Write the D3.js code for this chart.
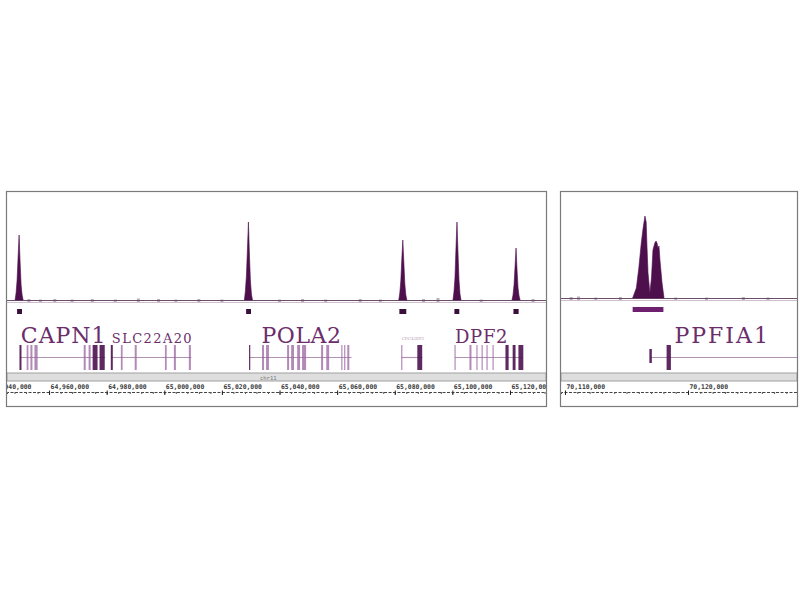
<!DOCTYPE html>
<html>
<head>
<meta charset="utf-8">
<script src="https://cdn.jsdelivr.net/npm/d3@7"></script>
<style>
  body { margin: 0; background: #fff; }
  svg { display: block; }
</style>
</head>
<body>
<svg id="chart" width="800" height="600"></svg>
<script>
// ---- data: left region (chr11, CAPN1 .. DPF2) ----
const leftDomain = [64945400, 65132500];
const leftTicks = [64940000, 64960000, 64980000, 65000000, 65020000, 65040000, 65060000, 65080000, 65100000, 65120000];

// ChIP signal, [position, value]
const leftSignal = [
  [64948200, 0], [64948550, 7], [64948900, 20], [64949250, 43], [64949600, 65], [64949950, 38], [64950300, 15], [64950650, 5], [64951000, 0],
  [65027800, 0], [65028150, 9], [65028500, 24], [65028850, 50], [65029200, 78], [65029550, 46], [65029900, 19], [65030250, 6], [65030600, 0],
  [65081400, 0], [65081750, 7], [65082100, 19], [65082450, 41], [65082800, 60], [65083150, 38], [65083500, 16], [65083850, 5], [65084200, 0],
  [65100200, 0], [65100550, 8], [65100900, 22], [65101250, 52], [65101600, 78], [65101950, 48], [65102300, 20], [65102650, 6], [65103000, 0],
  [65120700, 0], [65121050, 5], [65121400, 15], [65121750, 33], [65122100, 52], [65122450, 30], [65122800, 12], [65123150, 4], [65123500, 0]
];
const leftNoise = [
  [64953000, 2], [64957000, 1.5], [64962000, 2], [64968000, 1.5], [64975000, 2], [64983000, 1.5], [64991000, 2.5],
  [64998000, 2], [65004000, 1.5], [65012000, 2], [65020000, 1.5], [65040000, 1.5], [65048000, 2], [65056000, 1.5],
  [65068000, 2], [65075000, 1.5], [65090000, 2], [65095000, 3], [65110000, 1.5], [65128000, 2]
];
// called peaks [start, end]
const leftPeaks = [
  [64948900, 64950600], [65028400, 65030100], [65081600, 65084000], [65100700, 65102400], [65121200, 65123000]
];
// genes: exons [start, end, strong]
const leftGenes = [
  { name: "CAPN1", start: 64949900, end: 64979500, labelAt: 64950200, size: 22, ls: 1,
    exons: [[64949900, 64950600, 1], [64952400, 64953000, 0], [64953700, 64954400, 0], [64955100, 64956200, 0],
            [64972200, 64972900, 0], [64973900, 64974600, 0], [64975300, 64977000, 1], [64977700, 64979500, 1]] },
  { name: "SLC22A20", start: 64981600, end: 65009400, labelAt: 64981800, size: 13, ls: 1.4,
    exons: [[64981600, 64982300, 1], [64985100, 64985700, 0], [64989900, 64990600, 0], [65000400, 65001000, 0],
            [65003500, 65004200, 0], [65008700, 65009400, 0]] },
  { name: "POLA2", start: 65029600, end: 65065000, labelAt: 65033700, size: 22, ls: 0.6,
    exons: [[65029600, 65029900, 1], [65034100, 65034800, 0], [65035500, 65036500, 0], [65042800, 65043500, 0],
            [65044200, 65045200, 0], [65046300, 65047300, 0], [65048000, 65049400, 0], [65054600, 65055300, 0],
            [65056400, 65057400, 0], [65061600, 65061900, 0], [65062600, 65063000, 0], [65063700, 65064400, 0]] },
  { name: "CDC42EP2", start: 65082400, end: 65089600, labelAt: 65082400, size: 4, ls: 0,
    exons: [[65082400, 65082800, 0], [65088000, 65089700, 1]] },
  { name: "DPF2", start: 65100900, end: 65124500, labelAt: 65100900, size: 18, ls: 0.7,
    exons: [[65100900, 65101200, 0], [65106100, 65106800, 0], [65108500, 65108900, 0], [65110300, 65110600, 0],
            [65112000, 65112400, 0], [65114100, 65114400, 0], [65118600, 65119700, 1], [65121100, 65122100, 1],
            [65123100, 65124800, 1]] }
];

// ---- data: right region (chr11, PPFIA1) ----
const rightDomain = [70109675, 70128860];
const rightTicks = [70110000, 70120000];
const rightSignal = [
  [70115500, 0], [70115800, 10], [70116000, 30], [70116200, 55], [70116350, 70], [70116500, 82], [70116600, 76],
  [70116670, 50], [70116750, 25], [70116900, 5], [70117030, 20], [70117150, 48], [70117300, 55], [70117400, 57],
  [70117480, 55], [70117560, 50], [70117640, 52], [70117720, 38], [70117890, 15], [70118050, 0]
];
const rightNoise = [
  [70110500, 2], [70111100, 2.5], [70112500, 1.5], [70114500, 2], [70119000, 1.5], [70121500, 1.5], [70124500, 2], [70126500, 1.5]
];
const rightPeaks = [[70115500, 70118000]];
const rightGenes = [
  { name: "PPFIA1", start: 70116900, end: 70140000, labelAt: 70118900, size: 22, ls: 2,
    exons: [[70116900, 70117100, 2], [70118300, 70118650, 1]] }
];

const svg = d3.select("#chart");
svg.append("rect").attr("width", 800).attr("height", 600).attr("fill", "#fff");

function drawPanel(id, box, domain, ticks, minorStep, signal, noise, peaks, genes, base, peakY, peakColor) {
  const x = d3.scaleLinear().domain(domain).range([box.x0, box.x1]);
  const y = d3.scaleLinear().domain([0, 100]).range([base, base - 100]);

  svg.append("clipPath").attr("id", id)
    .append("rect").attr("x", box.x0).attr("y", box.y0)
    .attr("width", box.x1 - box.x0).attr("height", box.y1 - box.y0);

  const g = svg.append("g").attr("clip-path", `url(#${id})`);

  // baseline
  g.append("line").attr("x1", box.x0).attr("x2", box.x1).attr("y1", base + 0.5).attr("y2", base + 0.5)
    .attr("stroke", "#6a4f6a").attr("stroke-width", 1);
  g.append("line").attr("x1", box.x0).attr("x2", box.x1).attr("y1", base + 2.5).attr("y2", base + 2.5)
    .attr("stroke", "#cdbfcd").attr("stroke-width", 1);

  // noise specks
  g.selectAll(".noise").data(noise).join("rect")
    .attr("x", d => x(d[0]) - 1.5).attr("y", d => y(d[1]) + 1)
    .attr("width", 3).attr("height", d => y(0) - y(d[1]) + 1)
    .attr("fill", "#6a4a6a").attr("opacity", 0.45);

  // signal, split into separate peaks at zero runs
  const area = d3.area().x(d => x(d[0])).y0(y(0)).y1(d => y(d[1]));
  const runs = [];
  let cur = [];
  signal.forEach(d => {
    cur.push(d);
    if (d[1] === 0 && cur.length > 1) { runs.push(cur); cur = []; }
  });
  if (cur.length > 1) runs.push(cur);
  g.selectAll(".sig").data(runs).join("path")
    .attr("d", area).attr("fill", "#4e0f4d").attr("stroke", "#4e0f4d").attr("stroke-width", 0.6);

  // peak calls
  g.selectAll(".peak").data(peaks).join("rect")
    .attr("x", d => x(d[0])).attr("y", peakY)
    .attr("width", d => x(d[1]) - x(d[0])).attr("height", 5)
    .attr("fill", peakColor);

  // genes
  const geneG = g.selectAll(".gene").data(genes).join("g");
  geneG.append("line")
    .attr("x1", d => x(d.start)).attr("x2", d => x(d.end))
    .attr("y1", 357.5).attr("y2", 357.5)
    .attr("stroke", "#b293b2").attr("stroke-width", 1.2);
  geneG.selectAll("rect").data(d => d.exons).join("rect")
    .attr("x", d => x(d[0]) - 0.5)
    .attr("width", d => Math.max(1.2, x(d[1]) - x(d[0])))
    .attr("y", d => d[2] === 2 ? 349 : 345)
    .attr("height", d => d[2] === 2 ? 14 : 25)
    .attr("fill", d => d[2] ? "#4d1250" : "#9a62a0")
    .attr("opacity", d => d[2] ? 0.9 : 0.75);
  geneG.append("text")
    .attr("x", d => x(d.labelAt)).attr("y", d => d.size < 8 ? 340 : 343)
    .attr("font-family", "'DejaVu Serif', serif")
    .attr("font-size", d => d.size)
    .attr("letter-spacing", d => d.ls)
    .attr("fill", d => d.size < 8 ? "#b8a0b8" : "#6b2d6b")
    .text(d => d.name);

  // ruler band
  g.append("rect").attr("x", box.x0).attr("y", 373).attr("width", box.x1 - box.x0).attr("height", 8)
    .attr("fill", "#dedede").attr("stroke", "#a0a0a0").attr("stroke-width", 1);

  // axis
  const minor = d3.range(Math.ceil(domain[0] / minorStep) * minorStep, domain[1], minorStep);
  g.append("g").attr("transform", "translate(0,392)")
    .call(d3.axisBottom(x).tickValues(minor).tickSize(2).tickFormat(""))
    .call(a => a.select(".domain").attr("stroke", "#444").attr("stroke-dasharray", "3,1.5"))
    .call(a => a.selectAll(".tick line").attr("stroke", "#555"));
  g.append("g").attr("transform", "translate(0,392)")
    .call(d3.axisBottom(x).tickValues(ticks).tickSize(3).tickFormat(d3.format(",")))
    .call(a => a.select(".domain").remove())
    .call(a => a.selectAll(".tick line").attr("stroke", "#222").attr("y1", -1.5))
    .call(a => a.selectAll(".tick text")
      .attr("y", -3.5).attr("dy", 0).attr("x", 1).attr("text-anchor", "start")
      .attr("font-family", "'DejaVu Sans Mono', monospace").attr("font-weight", "bold")
      .attr("font-size", 6.4).attr("fill", "#3a3a3a"));

  // border
  svg.append("rect").attr("x", box.x0 - 0.5).attr("y", box.y0 - 0.5)
    .attr("width", box.x1 - box.x0 + 1).attr("height", box.y1 - box.y0 + 1)
    .attr("fill", "none").attr("stroke", "#7a7a7a").attr("stroke-width", 1.2);

  return g;
}

const gl = drawPanel("clipL", { x0: 7, x1: 546, y0: 192, y1: 406 }, leftDomain, leftTicks, 4000,
  leftSignal, leftNoise, leftPeaks, leftGenes, 300, 309, "#3a0f3c");
gl.append("text").attr("x", 260).attr("y", 380).attr("font-family", "DejaVu Sans Mono, monospace")
  .attr("font-size", 5.5).attr("fill", "#777").text("chr11");

drawPanel("clipR", { x0: 561, x1: 797, y0: 192, y1: 406 }, rightDomain, rightTicks, 1000,
  rightSignal, rightNoise, rightPeaks, rightGenes, 298, 307, "#6e1f6e");
</script>
</body>
</html>
